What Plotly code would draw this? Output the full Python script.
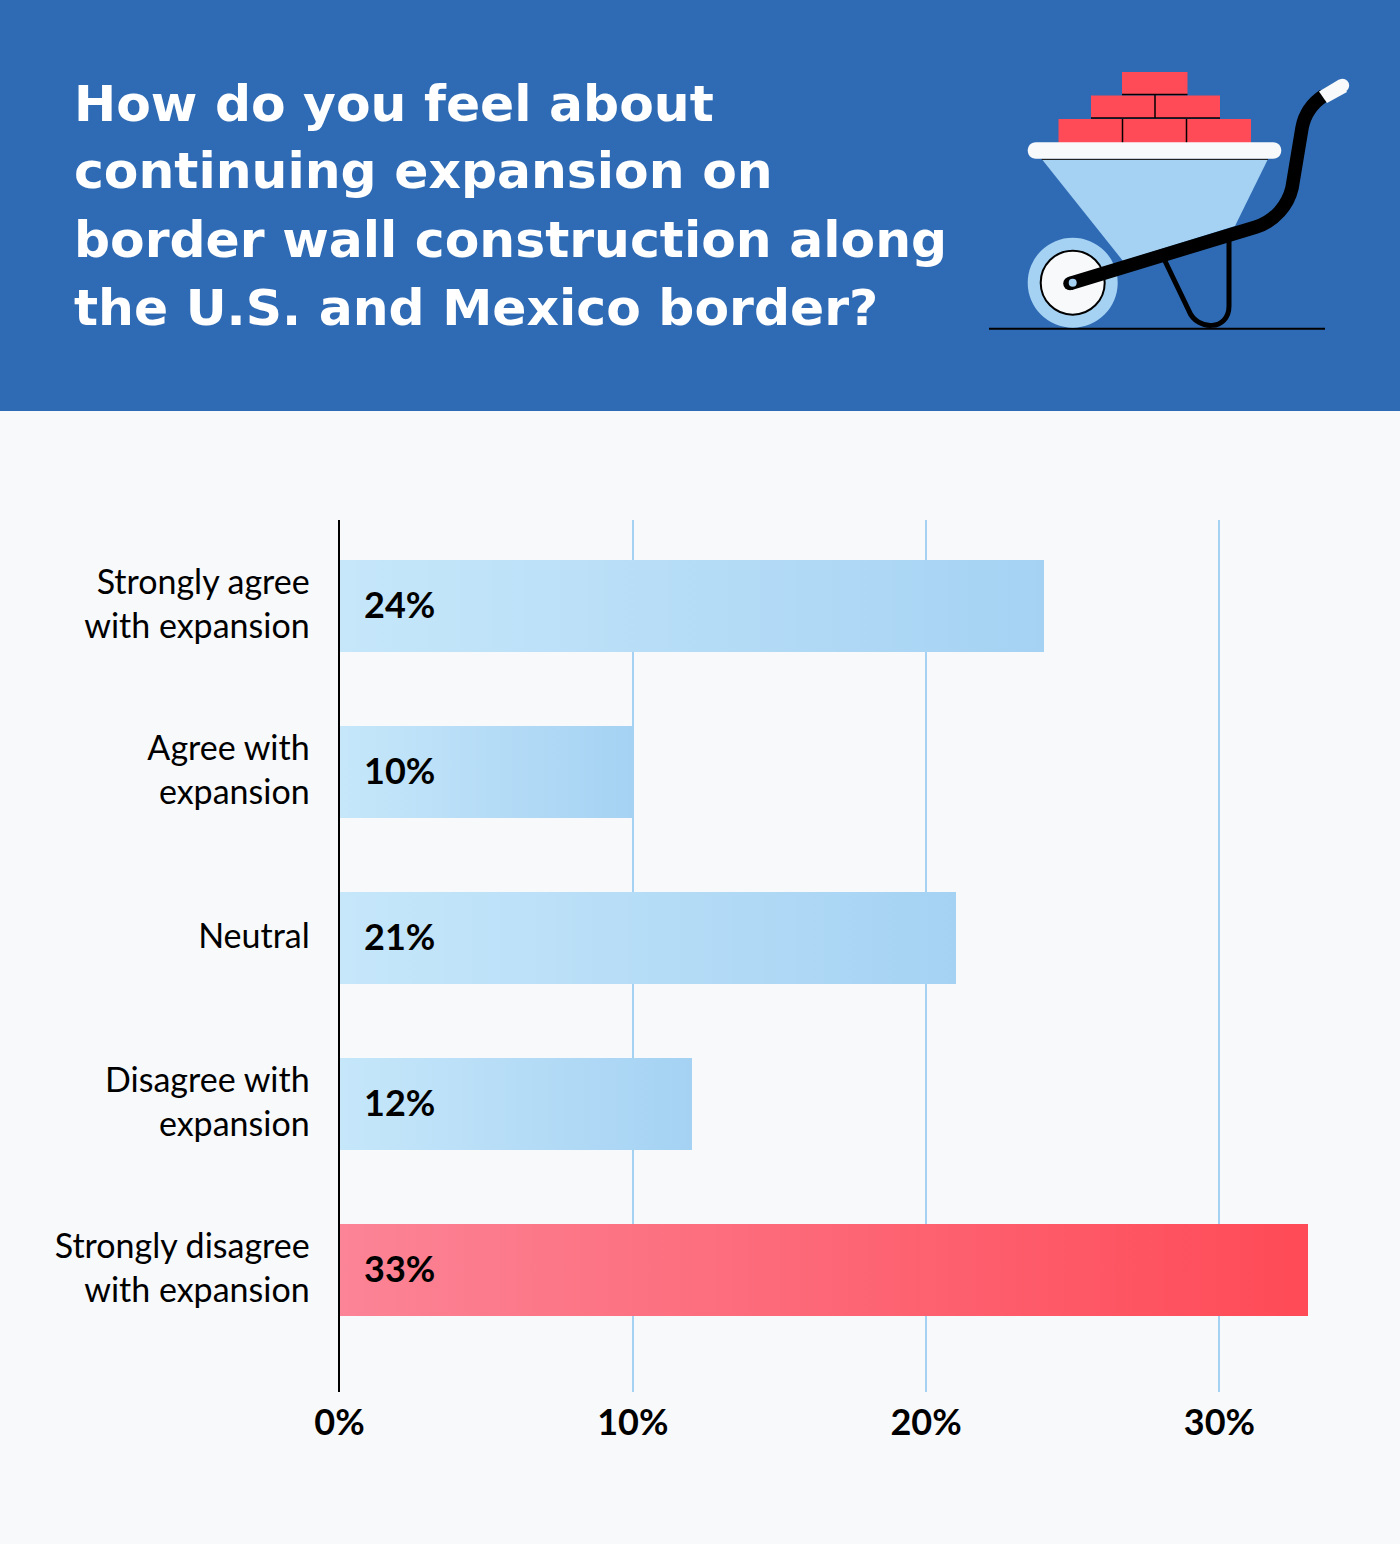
import plotly.graph_objects as go

# ---- data ----
categories = ["Strongly agree<br>with expansion", "Agree with<br>expansion", "Neutral",
              "Disagree with<br>expansion", "Strongly disagree<br>with expansion"]
values = [24, 10, 21, 12, 33]
start_colors = ["#C6E7FA", "#C6E7FA", "#C6E7FA", "#C6E7FA", "#FB8496"]
end_colors = ["#A5D2F3", "#A5D2F3", "#A5D2F3", "#A5D2F3", "#FF4A57"]
x_ticks = [0, 10, 20, 30]
x_tick_labels = ["0%", "10%", "20%", "30%"]
title_lines = ["How do you feel about", "continuing expansion on",
               "border wall construction along", "the U.S. and Mexico border?"]

W, H = 1400, 1544
BG, BLUE, LIGHT, RED, WHITE = "#F8F9FB", "#2F6BB5", "#A5D2F3", "#FF4A57", "#F8F9FB"
BAR_WIDTH = 92 / 166
LABEL_FONT = "Lato"

def px(x): return x / W
def py(y): return 1 - y / H

def path(d):
    """d: list of (command, (x, y), ...) in page pixels -> SVG path in paper coordinates."""
    out = []
    for item in d:
        cmd, pts = item[0], item[1:]
        out.append(cmd + " ".join(f"{px(x):.5f},{py(y):.5f}" for x, y in pts))
    return " ".join(out)

def rect(x0, y0, x1, y1, color, layer="above"):
    return dict(type="rect", xref="paper", yref="paper", x0=px(x0), x1=px(x1), y0=py(y0), y1=py(y1),
                fillcolor=color, line_width=0, layer=layer)

def circle(cx, cy, r, color, line=None, lw=0):
    return dict(type="circle", xref="paper", yref="paper", x0=px(cx - r), x1=px(cx + r),
                y0=py(cy - r), y1=py(cy + r), fillcolor=color,
                line=dict(color=line or color, width=lw), layer="above")

def stroke(d, color, w):
    return dict(type="path", xref="paper", yref="paper", path=path(d),
                line=dict(color=color, width=w), layer="above")

def filled(d, color):
    return dict(type="path", xref="paper", yref="paper", path=path(d) + " Z",
                fillcolor=color, line_width=0, layer="above")

shapes = [rect(0, 0, W, 411, BLUE, "below")]

# wheelbarrow illustration
shapes += [
    stroke([("M", (989, 328.7)), ("L", (1325, 328.7))], "#000000", 2),
    filled([("M", (1041.7, 159)), ("L", (1268, 159)), ("L", (1235, 226)), ("L", (1123, 261))], LIGHT),
    rect(1122, 72, 1187.5, 94, RED),
    rect(1091, 95.5, 1220, 118, RED),
    rect(1058.5, 119, 1251, 143, RED),
    stroke([("M", (1122, 94.5)), ("L", (1187.5, 94.5))], "#000000", 1.5),
    stroke([("M", (1091, 118)), ("L", (1220, 118))], "#000000", 1.5),
    stroke([("M", (1155, 95)), ("L", (1155, 118))], "#000000", 1.5),
    stroke([("M", (1122.5, 119)), ("L", (1122.5, 143))], "#000000", 1.5),
    stroke([("M", (1186.5, 119)), ("L", (1186.5, 143))], "#000000", 1.5),
    stroke([("M", (1041.7, 159.3)), ("L", (1268, 159.3))], "#222222", 1.5),
    filled([("M", (1036, 142.3)), ("L", (1273, 142.3)), ("C", (1284, 142.3), (1284, 158.7), (1273, 158.7)),
            ("L", (1036, 158.7)), ("C", (1025, 158.7), (1025, 142.3), (1036, 142.3))], WHITE),
    circle(1072.7, 282.7, 45, LIGHT),
    circle(1072.7, 282.7, 32, WHITE, "#000000", 2),
    stroke([("M", (1165, 261)), ("L", (1189, 311)), ("C", (1197, 331), (1229, 331), (1229, 306)),
            ("L", (1229, 241))], "#000000", 5),
    stroke([("M", (1070, 283.5)), ("L", (1256, 227)), ("C", (1275, 221), (1288, 205), (1292, 188)),
            ("L", (1302, 128)), ("C", (1305, 112), (1314, 102), (1324, 95.5))], "#000000", 13.5),
    circle(1070, 283.5, 6.8, "#000000"),
    circle(1072.7, 282.7, 4, LIGHT),
    filled([("M", (1319, 91.5)), ("L", (1339, 79.5)), ("L", (1347, 92)), ("L", (1327, 103))], WHITE),
    circle(1342.5, 85.5, 6.7, WHITE),
]

fig = go.Figure()

ys = list(range(len(categories)))
fig.add_trace(go.Bar(
    y=ys, x=values, orientation="h", width=BAR_WIDTH, marker=dict(color=end_colors, line_width=0),
    hoverinfo="skip", showlegend=False))

# the horizontal gradient of every bar, drawn from the same values
for y, v, c0, c1 in zip(ys, values, start_colors, end_colors):
    half = BAR_WIDTH / 2
    fig.add_trace(go.Scatter(
        x=[0, v, v, 0, 0], y=[y - half, y - half, y + half, y + half, y - half],
        mode="lines", line_width=0, fill="toself",
        fillgradient=dict(type="horizontal", start=0, stop=v, colorscale=[[0, c0], [1, c1]]),
        hoverinfo="skip", showlegend=False))

annotations = [
    dict(x=0, y=y, xref="x", yref="y", text=f"<b>{v}%</b>", showarrow=False, xanchor="left", yanchor="middle",
         xshift=22, yshift=2, font=dict(family=LABEL_FONT, size=36, color="#000000"))
    for y, v in zip(ys, values)
]
for i, line in enumerate(title_lines):
    annotations.append(dict(
        x=px(75), y=py(103 + 68 * i), xref="paper", yref="paper", text=f"<b>{line}</b>", showarrow=False,
        xanchor="left", yanchor="middle", xshift=-3,
        font=dict(family="DejaVu Sans", size=50.4, color="#FFFFFF")))

# axis geometry: 0 % sits at x=339.5 px, 29.33 px per percent; bars spaced 166 px from y=606 px
X0, X1 = 339.5, 1340
Y0, Y1 = 520, 1392
fig.update_layout(
    width=W, height=H, margin=dict(l=0, r=0, t=0, b=0, autoexpand=False), autosize=False,
    paper_bgcolor=BG, plot_bgcolor=BG, bargap=0, shapes=shapes, annotations=annotations,
    font=dict(family=LABEL_FONT, color="#000000"),
    xaxis=dict(domain=[px(X0), px(X1)], range=[0, (X1 - X0) / 29.33], tickvals=x_ticks,
               ticktext=[f"<b>{t}</b>" for t in x_tick_labels], tickfont=dict(size=36, family=LABEL_FONT, color="#000000"),
               showgrid=True, gridcolor=LIGHT, gridwidth=2, zeroline=False, showline=False,
               ticks="", ticklabelstandoff=6),
    yaxis=dict(domain=[py(Y1), py(Y0)], range=[(Y1 - 606) / 166, (Y0 - 606) / 166], tickvals=ys,
               ticktext=categories, tickfont=dict(size=34, family=LABEL_FONT, color="#000000"),
               showgrid=False, zeroline=False, showline=True, linecolor="#000000", linewidth=2,
               ticks="", ticklabelstandoff=21, ticklabelshift=2),
)

fig.write_html("out.html", config={"displayModeBar": False},
               post_script="document.body.style.margin='0';document.documentElement.style.background='#F8F9FB';")
